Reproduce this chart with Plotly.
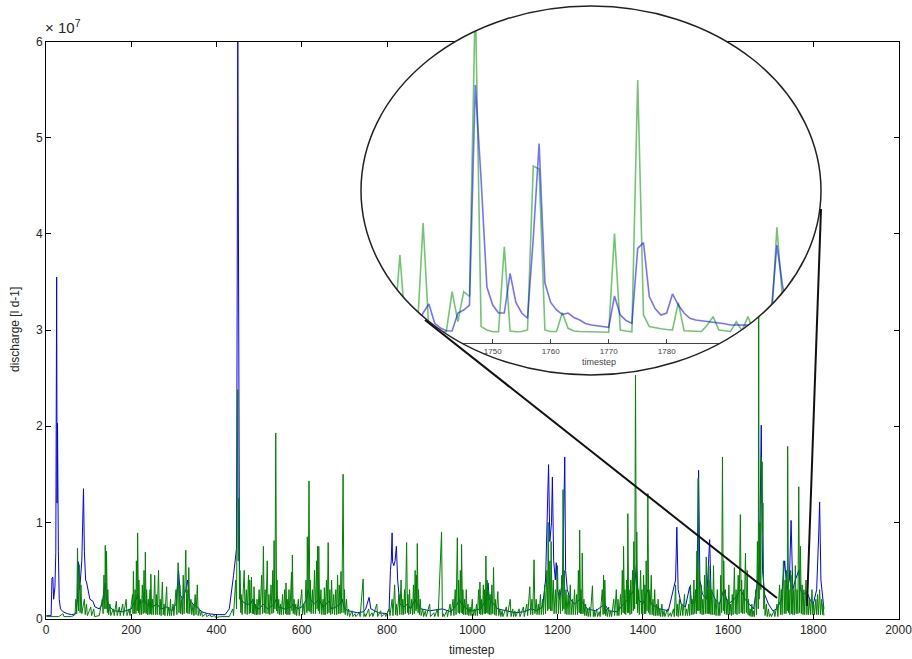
import math
import plotly.graph_objects as go

W, H = 912, 659

# ---------------- data (discharge, units of 1e7 l d-1) ----------------
blue_pts = [
    (1, 0.03), (12, 0.03), (14, 0.42), (16, 0.43), (18, 0.2), (21, 0.33), (23, 0.69), (25, 3.55),
    (26, 1.2), (27, 2.03), (29, 0.7), (31, 0.2), (34, 0.1), (40, 0.07), (50, 0.05), (60, 0.04), (70, 0.05),
    (74, 0.2), (76, 0.59), (79, 0.3), (84, 0.6), (86, 1.06), (88, 1.35), (90, 0.7), (93, 0.4),
    (95, 0.38), (99, 0.3), (103, 0.2), (110, 0.18), (115, 0.12), (125, 0.1), (132, 0.15), (136, 0.3),
    (139, 0.37), (142, 0.2), (150, 0.12), (160, 0.08), (180, 0.07), (200, 0.1), (205, 0.15), (212, 0.2),
    (215, 0.25), (220, 0.15), (230, 0.2), (235, 0.15), (250, 0.12), (260, 0.15), (270, 0.1), (283, 0.12),
    (295, 0.08), (305, 0.15), (311, 0.5), (315, 0.25), (320, 0.2), (328, 0.3), (332, 0.4), (336, 0.2),
    (345, 0.15), (355, 0.12), (365, 0.07), (380, 0.05), (400, 0.04), (420, 0.04), (430, 0.1), (440, 0.45),
    (443, 0.61), (447, 0.73), (450, 6.0), (452, 3.6), (454, 0.5), (456, 0.23), (460, 0.18), (470, 0.15),
    (480, 0.15), (485, 0.2), (490, 0.12), (500, 0.1), (510, 0.15), (520, 0.1), (535, 0.15), (540, 0.2),
    (545, 0.12), (560, 0.1), (575, 0.12), (580, 0.15), (590, 0.1), (600, 0.12), (612, 0.2), (615, 0.3),
    (620, 0.2), (630, 0.15), (640, 0.2), (650, 0.12), (664, 0.18), (670, 0.1), (680, 0.12), (690, 0.15),
    (695, 0.2), (700, 0.1), (710, 0.08), (730, 0.06), (745, 0.07), (750, 0.1), (758, 0.22), (762, 0.1),
    (780, 0.06), (800, 0.05), (805, 0.1), (808, 0.5), (810, 0.6), (812, 0.89), (813, 0.59), (816, 0.55),
    (819, 0.6), (822, 0.75), (825, 0.4), (830, 0.15), (840, 0.12), (848, 0.15), (855, 0.1), (866, 0.2),
    (870, 0.15), (880, 0.1), (900, 0.08), (930, 0.1), (950, 0.07), (965, 0.15), (970, 0.2), (975, 0.15),
    (988, 0.1), (1000, 0.08), (1020, 0.1), (1033, 0.2), (1037, 0.37), (1040, 0.2), (1050, 0.15), (1060, 0.1),
    (1080, 0.08), (1100, 0.06), (1120, 0.07), (1140, 0.1), (1150, 0.08), (1165, 0.12), (1172, 0.4), (1176, 1.0),
    (1179, 1.6), (1182, 0.8), (1186, 1.0), (1188, 1.47), (1191, 0.6), (1195, 0.4), (1197, 0.58), (1200, 0.3),
    (1205, 0.2), (1212, 0.4), (1215, 1.2), (1217, 1.68), (1219, 0.5), (1223, 0.3), (1230, 0.2), (1240, 0.15),
    (1252, 0.2), (1260, 0.15), (1270, 0.1), (1290, 0.08), (1311, 0.15), (1320, 0.08), (1340, 0.07), (1355, 0.15),
    (1365, 0.2), (1380, 0.3), (1385, 0.55), (1390, 0.2), (1400, 0.15), (1412, 0.3), (1420, 0.15), (1440, 0.1),
    (1460, 0.08), (1477, 0.4), (1480, 0.95), (1483, 0.3), (1490, 0.15), (1500, 0.12), (1510, 0.33), (1515, 0.15),
    (1525, 0.2), (1528, 0.6), (1531, 1.54), (1534, 0.4), (1540, 0.25), (1550, 0.2), (1557, 0.82), (1560, 0.3),
    (1570, 0.2), (1580, 0.15), (1590, 0.3), (1600, 0.15), (1615, 0.2), (1630, 0.3), (1640, 0.2), (1650, 0.15),
    (1660, 0.1), (1670, 0.4), (1674, 0.6), (1678, 2.01), (1681, 0.5), (1686, 0.25), (1695, 0.15), (1705, 0.08),
    (1715, 0.1), (1725, 0.2), (1733, 0.6), (1738, 0.3), (1744, 0.4), (1748, 1.02), (1752, 0.3), (1758, 0.4),
    (1766, 0.5), (1770, 0.3), (1776, 0.25), (1785, 0.28), (1792, 0.2), (1800, 0.15), (1808, 0.3), (1813, 0.9),
    (1815, 1.21), (1818, 0.4), (1822, 0.2), (1825, 0.1),
]

green_pts = [
    (1, 0.02), (30, 0.02), (40, 0.05), (42, 0.02), (60, 0.02), (68, 0.04),
    (70, 0.2), (72, 0.05), (74, 0.73), (76, 0.08), (78, 0.56), (80, 0.06), (82, 0.35), (84, 0.05), (90, 0.2),
    (92, 0.04), (95, 0.15), (97, 0.03), (105, 0.12), (107, 0.03), (112, 0.1), (114, 0.02),
    (125, 0.03), (132, 0.2), (134, 0.05), (136, 0.45), (138, 0.1), (139, 0.76), (141, 0.1), (142, 0.7),
    (144, 0.06), (145, 0.3), (147, 0.04), (150, 0.15), (152, 0.03), (158, 0.1), (160, 0.03),
    (165, 0.18), (167, 0.03), (172, 0.12), (174, 0.03), (180, 0.15), (182, 0.03), (188, 0.2), (190, 0.03),
    (195, 0.1), (197, 0.03),
    (203, 0.25), (204, 0.05), (205, 0.49), (207, 0.05), (209, 0.3), (211, 0.05), (212, 0.6), (214, 0.08),
    (215, 0.89), (217, 0.06), (218, 0.4), (220, 0.04), (222, 0.2), (224, 0.04), (226, 0.35), (228, 0.05),
    (230, 0.5), (232, 0.06), (233, 0.69), (235, 0.05), (236, 0.3), (238, 0.04), (240, 0.2), (242, 0.04),
    (244, 0.3), (245, 0.05), (246, 0.46), (248, 0.04), (250, 0.2), (252, 0.04), (255, 0.45), (257, 0.04),
    (259, 0.25), (261, 0.04), (264, 0.5), (266, 0.04), (268, 0.2), (270, 0.03), (273, 0.38), (275, 0.04),
    (277, 0.15), (279, 0.03), (283, 0.33), (285, 0.03), (288, 0.12), (290, 0.03), (292, 0.2), (294, 0.03),
    (298, 0.15), (300, 0.03), (305, 0.3), (307, 0.04), (310, 0.58), (312, 0.06), (314, 0.35), (316, 0.05),
    (318, 0.2), (320, 0.04), (322, 0.45), (324, 0.05), (328, 0.71), (330, 0.06), (331, 0.3), (333, 0.05),
    (335, 0.53), (337, 0.05), (340, 0.2), (342, 0.04), (345, 0.15), (347, 0.03), (350, 0.25), (352, 0.04),
    (355, 0.35), (357, 0.03), (360, 0.1), (362, 0.03), (365, 0.08), (367, 0.02),
    (375, 0.05), (377, 0.02), (385, 0.04), (387, 0.02), (396, 0.03), (398, 0.01), (410, 0.02), (430, 0.02),
    (438, 0.1), (440, 0.03), (445, 0.4), (447, 0.1), (450, 2.38), (451, 0.6), (452, 1.25), (454, 0.2),
    (455, 0.5), (457, 0.06), (458, 0.25), (460, 0.04),
    (465, 0.5), (467, 0.05), (470, 0.3), (472, 0.04), (475, 0.45), (477, 0.05), (478, 0.4), (480, 0.06),
    (482, 0.43), (484, 0.05), (486, 0.2), (487, 0.05), (488, 0.33), (490, 0.04), (492, 0.15), (494, 0.04),
    (495, 0.2), (497, 0.04), (500, 0.3), (502, 0.04), (506, 0.45), (508, 0.05), (510, 0.75), (512, 0.06),
    (514, 0.3), (516, 0.05), (519, 0.6), (521, 0.05), (523, 0.25), (525, 0.04), (528, 0.35), (530, 0.05),
    (532, 0.5), (534, 0.06), (535, 0.81), (537, 0.1), (539, 1.93), (541, 0.08), (542, 0.4), (544, 0.05),
    (546, 0.2), (548, 0.04), (550, 0.15), (552, 0.04), (555, 0.25), (557, 0.04), (560, 0.3), (562, 0.05),
    (563, 0.37), (565, 0.04), (566, 0.2), (568, 0.04), (570, 0.3), (572, 0.04), (576, 0.48), (577, 0.08),
    (578, 0.66), (580, 0.05), (582, 0.2), (584, 0.04), (586, 0.15), (588, 0.03), (592, 0.2), (594, 0.03),
    (600, 0.3), (602, 0.04), (605, 0.15), (607, 0.04), (610, 0.4), (612, 0.06), (613, 0.85), (615, 0.08),
    (617, 1.43), (619, 0.07), (620, 0.4), (622, 0.05), (625, 0.3), (627, 0.05), (630, 0.5), (632, 0.05),
    (635, 0.6), (636, 0.1), (637, 0.75), (639, 0.08), (640, 0.75), (642, 0.05), (645, 0.3), (647, 0.04),
    (650, 0.2), (652, 0.04), (653, 0.32), (655, 0.04), (658, 0.4), (660, 0.05), (662, 0.79), (664, 0.06),
    (666, 0.3), (668, 0.04), (670, 0.4), (672, 0.05), (675, 0.25), (677, 0.04), (680, 0.3), (682, 0.04),
    (684, 0.45), (686, 0.05), (688, 0.35), (690, 0.05), (692, 0.49), (694, 0.06), (697, 1.5), (699, 0.06),
    (700, 0.3), (702, 0.04), (705, 0.2), (707, 0.03), (710, 0.1), (712, 0.02), (718, 0.08), (720, 0.02),
    (725, 0.05), (727, 0.02), (735, 0.06), (737, 0.02), (744, 0.41), (746, 0.02), (748, 0.05), (750, 0.02),
    (757, 0.1), (759, 0.02), (765, 0.06), (767, 0.02), (776, 0.15), (778, 0.02), (785, 0.08), (787, 0.02),
    (795, 0.05), (797, 0.02),
    (805, 0.1), (807, 0.03), (812, 0.2), (814, 0.03), (818, 0.35), (820, 0.04), (822, 0.15), (824, 0.03),
    (828, 0.25), (830, 0.04), (833, 0.4), (835, 0.04), (837, 0.2), (839, 0.04), (841, 0.3), (843, 0.05),
    (846, 0.79), (848, 0.06), (849, 0.25), (851, 0.04), (853, 0.3), (855, 0.05), (858, 0.2), (860, 0.04),
    (862, 0.35), (864, 0.05), (866, 0.5), (868, 0.08), (869, 0.45), (870, 0.1), (871, 0.78), (873, 0.06),
    (874, 0.3), (876, 0.04), (878, 0.2), (880, 0.03), (884, 0.1), (886, 0.02),
    (890, 0.08), (892, 0.02), (900, 0.15), (902, 0.02), (910, 0.06), (912, 0.02), (918, 0.1), (920, 0.02),
    (928, 0.9), (930, 0.02), (932, 0.05), (934, 0.02), (940, 0.08), (942, 0.02),
    (948, 0.15), (950, 0.03), (955, 0.2), (957, 0.03), (960, 0.3), (962, 0.04), (965, 0.84), (967, 0.06),
    (968, 0.4), (970, 0.05), (972, 0.5), (974, 0.06), (975, 0.77), (977, 0.05), (978, 0.3), (980, 0.04),
    (982, 0.2), (984, 0.04), (986, 0.3), (988, 0.04), (990, 0.15), (992, 0.03), (995, 0.12), (997, 0.03),
    (1000, 0.2), (1002, 0.03), (1005, 0.1), (1007, 0.03), (1010, 0.15), (1012, 0.03), (1015, 0.3), (1017, 0.05),
    (1018, 0.38), (1020, 0.04), (1022, 0.2), (1024, 0.04), (1026, 0.35), (1028, 0.05), (1029, 0.3), (1031, 0.05),
    (1032, 0.65), (1034, 0.06), (1035, 0.4), (1037, 0.05), (1038, 0.3), (1040, 0.04), (1042, 0.25), (1044, 0.04),
    (1046, 0.35), (1048, 0.05), (1050, 0.53), (1052, 0.04), (1054, 0.2), (1056, 0.03), (1060, 0.28), (1062, 0.03),
    (1065, 0.1), (1067, 0.02), (1070, 0.08), (1072, 0.02), (1080, 0.12), (1082, 0.02), (1089, 0.2), (1091, 0.02),
    (1095, 0.1), (1097, 0.02), (1100, 0.08), (1102, 0.02),
    (1110, 0.1), (1112, 0.02), (1120, 0.12), (1122, 0.02), (1128, 0.15), (1130, 0.03), (1135, 0.33), (1137, 0.04),
    (1140, 0.2), (1142, 0.04), (1145, 0.61), (1147, 0.05), (1150, 0.2), (1152, 0.04), (1155, 0.15), (1157, 0.04),
    (1160, 0.25), (1162, 0.04), (1165, 0.2), (1167, 0.04), (1170, 0.35), (1172, 0.05), (1175, 0.5), (1177, 0.08),
    (1178, 1.0), (1180, 0.1), (1182, 0.6), (1184, 0.08),
    (1185, 0.8), (1187, 0.08), (1190, 0.4), (1192, 0.05), (1195, 0.3), (1197, 0.05), (1200, 0.55), (1202, 0.05),
    (1205, 0.3), (1207, 0.05), (1210, 0.45), (1212, 0.08), (1213, 1.34), (1215, 0.1), (1216, 0.5), (1218, 0.05),
    (1220, 0.3), (1222, 0.04), (1225, 0.25), (1227, 0.04), (1230, 0.35), (1232, 0.04), (1235, 0.2), (1237, 0.04),
    (1240, 0.3), (1242, 0.04), (1245, 0.25), (1247, 0.04), (1249, 0.5), (1251, 0.06), (1252, 0.92), (1254, 0.05),
    (1255, 0.3), (1257, 0.05), (1258, 0.68), (1260, 0.05), (1262, 0.2), (1264, 0.03), (1266, 0.15), (1268, 0.03),
    (1270, 0.1), (1272, 0.02), (1275, 0.12), (1277, 0.02), (1282, 0.34), (1284, 0.02), (1286, 0.08), (1288, 0.02),
    (1292, 0.1), (1294, 0.02), (1298, 0.07), (1300, 0.02),
    (1305, 0.3), (1307, 0.04), (1308, 0.45), (1310, 0.05), (1311, 0.4), (1313, 0.03), (1315, 0.1), (1317, 0.02),
    (1320, 0.12), (1322, 0.02), (1325, 0.08), (1327, 0.02), (1332, 0.2), (1334, 0.03), (1338, 0.3), (1340, 0.03),
    (1342, 0.2), (1344, 0.03), (1348, 0.25), (1350, 0.04), (1352, 0.5), (1354, 0.06), (1355, 0.75), (1357, 0.05),
    (1358, 0.3), (1360, 0.04), (1362, 0.4), (1364, 0.06), (1365, 1.09), (1367, 0.06), (1368, 0.3), (1370, 0.04),
    (1372, 0.4), (1374, 0.05), (1376, 0.5), (1378, 0.08), (1379, 0.8), (1381, 0.1), (1383, 2.53), (1385, 0.15),
    (1386, 0.9), (1388, 0.06), (1390, 0.3), (1392, 0.04),
    (1395, 0.5), (1397, 0.05), (1398, 0.3), (1400, 0.04), (1402, 0.45), (1404, 0.05), (1405, 0.35), (1407, 0.05),
    (1408, 0.6), (1410, 0.08), (1412, 1.3), (1414, 0.06), (1415, 0.3), (1417, 0.04), (1420, 0.45), (1422, 0.04),
    (1424, 0.2), (1426, 0.03), (1428, 0.3), (1430, 0.03), (1432, 0.15), (1434, 0.03), (1436, 0.2), (1438, 0.03),
    (1440, 0.1), (1442, 0.02), (1445, 0.15), (1447, 0.02), (1450, 0.08), (1452, 0.02), (1458, 0.1), (1460, 0.02),
    (1465, 0.06), (1467, 0.02), (1472, 0.1), (1474, 0.02), (1477, 0.35), (1479, 0.03), (1481, 0.15), (1483, 0.02),
    (1486, 0.2), (1488, 0.03), (1492, 0.15), (1494, 0.03), (1498, 0.25), (1500, 0.03), (1503, 0.1), (1505, 0.03),
    (1508, 0.15), (1510, 0.03), (1512, 0.35), (1514, 0.04), (1516, 0.2), (1518, 0.04), (1520, 0.4), (1522, 0.05),
    (1524, 0.3), (1526, 0.05), (1527, 0.7), (1529, 0.08), (1530, 1.46), (1532, 0.08), (1533, 0.5), (1535, 0.05),
    (1537, 0.35), (1539, 0.04), (1541, 0.2), (1543, 0.04), (1545, 0.45), (1547, 0.05), (1549, 0.64), (1551, 0.05),
    (1552, 0.3), (1554, 0.05), (1555, 0.55), (1557, 0.05), (1558, 0.4), (1560, 0.04), (1562, 0.3), (1564, 0.04),
    (1566, 0.55), (1568, 0.04), (1570, 0.2), (1572, 0.03),
    (1575, 0.3), (1577, 0.03), (1579, 0.15), (1581, 0.03), (1583, 0.45), (1585, 0.06), (1587, 1.68), (1589, 0.08),
    (1590, 0.6), (1592, 0.05), (1594, 0.3), (1596, 0.04), (1598, 0.2), (1600, 0.04), (1602, 0.35), (1604, 0.04),
    (1606, 0.15), (1608, 0.03), (1610, 0.25), (1612, 0.04), (1615, 0.53), (1617, 0.05), (1619, 0.3), (1621, 0.04),
    (1624, 0.45), (1626, 0.05), (1629, 1.08), (1631, 0.06), (1632, 0.4), (1634, 0.05), (1636, 0.3), (1638, 0.05),
    (1641, 0.68), (1643, 0.06), (1645, 0.5), (1647, 0.04), (1648, 0.2), (1650, 0.03), (1652, 0.1), (1654, 0.02),
    (1656, 0.15), (1658, 0.02), (1660, 0.08), (1662, 0.02),
    (1665, 0.3), (1667, 0.04), (1669, 0.8), (1671, 0.1), (1672, 3.2), (1673, 0.2), (1675, 1.0), (1677, 0.3),
    (1678, 1.68), (1679, 1.2), (1680, 1.63), (1681, 0.9), (1682, 1.2), (1684, 0.1), (1685, 0.3), (1687, 0.03),
    (1690, 0.15), (1692, 0.02), (1695, 0.1), (1697, 0.02), (1700, 0.05), (1702, 0.02),
    (1708, 0.08), (1710, 0.02), (1715, 0.15), (1717, 0.02), (1721, 0.35), (1723, 0.04), (1725, 0.3), (1727, 0.04),
    (1730, 0.6), (1732, 0.05), (1734, 0.4), (1736, 0.05), (1737, 0.5), (1739, 0.08), (1740, 1.79), (1742, 0.06),
    (1743, 0.3), (1745, 0.04), (1747, 0.5), (1749, 0.05), (1750, 0.45), (1752, 0.04), (1754, 0.3), (1756, 0.04),
    (1758, 0.55), (1760, 0.05), (1762, 0.3), (1764, 0.05), (1766, 1.37), (1768, 0.06), (1770, 0.75), (1772, 0.05),
    (1774, 0.35), (1776, 0.04), (1778, 0.3), (1780, 0.04), (1783, 0.4), (1785, 0.04), (1787, 0.25), (1789, 0.04),
    (1792, 0.2), (1794, 0.04), (1797, 0.3), (1799, 0.04), (1801, 0.15), (1803, 0.04), (1806, 0.2), (1808, 0.04),
    (1810, 0.25), (1812, 0.04), (1815, 0.3), (1817, 0.04), (1820, 0.2), (1822, 0.04), (1823, 0.15), (1825, 0.03),
]

blue_t = [p[0] for p in blue_pts]
blue_v = [p[1] for p in blue_pts]
green_t = [p[0] for p in green_pts]
green_v = [p[1] for p in green_pts]

# zoomed window (daily values)
inset_t = list(range(1733, 1802))
inset_green = [
    0.08, 0.587, 0.08, 0.08, 0.08, 0.80, 0.08, 0.075, 0.075, 0.075,
    0.342, 0.142, 0.342, 0.31, 2.3, 0.109, 0.087, 0.075, 0.075, 0.642,
    0.08, 0.075, 0.077, 0.087, 1.18, 1.16, 0.087, 0.077, 0.077, 0.202,
    0.098, 0.08, 0.077, 0.075, 0.075, 0.073, 0.073, 0.072, 0.73, 0.087,
    0.08, 0.075, 1.753, 0.187, 0.109, 0.1, 0.095, 0.09, 0.087, 0.269,
    0.082, 0.08, 0.078, 0.077, 0.12, 0.176, 0.087, 0.08, 0.077, 0.142,
    0.082, 0.176, 0.08, 0.08, 0.08, 0.085, 0.771, 0.28, 0.1,
]
inset_blue = [
    0.1, 0.1, 0.1, 0.1, 0.12, 0.2, 0.26, 0.131, 0.1, 0.082,
    0.08, 0.2, 0.22, 0.253, 1.72, 1.09, 0.373, 0.253, 0.2, 0.2,
    0.464, 0.27, 0.2, 0.165, 0.7, 1.33, 0.4, 0.27, 0.22, 0.19,
    0.2, 0.17, 0.153, 0.13, 0.12, 0.115, 0.11, 0.105, 0.313, 0.187,
    0.15, 0.131, 0.631, 0.669, 0.31, 0.23, 0.187, 0.2, 0.327, 0.253,
    0.2, 0.165, 0.153, 0.148, 0.145, 0.142, 0.135, 0.128, 0.12, 0.12,
    0.12, 0.12, 0.11, 0.11, 0.12, 0.2, 0.653, 0.375, 0.2,
]
inset_ticks = [1750, 1760, 1770, 1780]
main_xticks = list(range(0, 2001, 200))
main_yticks = list(range(0, 7))

# ---------------- layout geometry (pixels) ----------------
MX0, MX1, MY0, MY1 = 46, 898.5, 618.5, 41.5      # main plot box
CX, CY, RX, RY = 591.0, 190.5, 230.0, 184.5      # magnifier ellipse
IX_REF, IX_SCALE = 492.7, 5.8                    # inset: px of t=1750, px per step
IY_BASE, IY_SCALE = 343.0, 150.0                 # inset: px of v=0, px per unit


def t2px(t):
    return IX_REF + (t - 1750) * IX_SCALE


def px2t(px):
    return 1750 + (px - IX_REF) / IX_SCALE


def py2v(py):
    return (IY_BASE - py) / IY_SCALE


def v2py(v):
    return IY_BASE - v * IY_SCALE


def fx(px):
    return px / W


def fy(py):
    return 1 - py / H


def clip_to_ellipse(ts, vs):
    """Keep only the parts of a polyline that fall inside the magnifier ellipse."""
    xs, ys = [], []
    cont = False
    for i in range(len(ts) - 1):
        x0 = (t2px(ts[i]) - CX) / RX
        y0 = (v2py(vs[i]) - CY) / RY
        x1 = (t2px(ts[i + 1]) - CX) / RX
        y1 = (v2py(vs[i + 1]) - CY) / RY
        dx, dy = x1 - x0, y1 - y0
        a = dx * dx + dy * dy
        b = 2 * (x0 * dx + y0 * dy)
        c = x0 * x0 + y0 * y0 - 1
        disc = b * b - 4 * a * c
        if a == 0 or disc <= 0:
            cont = False
            continue
        r = math.sqrt(disc)
        sa = max(0.0, (-b - r) / (2 * a))
        sb = min(1.0, (-b + r) / (2 * a))
        if sa >= sb:
            cont = False
            continue
        ta = ts[i] + sa * (ts[i + 1] - ts[i])
        va = vs[i] + sa * (vs[i + 1] - vs[i])
        tb = ts[i] + sb * (ts[i + 1] - ts[i])
        vb = vs[i] + sb * (vs[i + 1] - vs[i])
        if cont and sa == 0.0:
            xs.append(tb)
            ys.append(vb)
        else:
            if xs:
                xs.append(None)
                ys.append(None)
            xs += [ta, tb]
            ys += [va, vb]
        cont = sb == 1.0
    return xs, ys


FONT = "Liberation Sans, Arial, Helvetica, sans-serif"
TXT = "#262626"

fig = go.Figure()
fig.add_trace(go.Scatter(x=blue_t, y=blue_v, mode="lines", xaxis="x", yaxis="y",
                         line=dict(color="rgb(0,0,255)", width=1), hoverinfo="skip"))
fig.add_trace(go.Scatter(x=green_t, y=green_v, mode="lines", xaxis="x", yaxis="y",
                         line=dict(color="rgb(0,128,0)", width=1), hoverinfo="skip"))

gx, gy = clip_to_ellipse(inset_t, inset_green)
bx, by = clip_to_ellipse(inset_t, inset_blue)
fig.add_trace(go.Scatter(x=gx, y=gy, mode="lines", xaxis="x2", yaxis="y2", connectgaps=False,
                         line=dict(color="rgba(0,150,0,0.55)", width=1.6), hoverinfo="skip"))
fig.add_trace(go.Scatter(x=bx, y=by, mode="lines", xaxis="x2", yaxis="y2", connectgaps=False,
                         line=dict(color="rgba(0,0,255,0.55)", width=1.6), hoverinfo="skip"))

# inset axis line spans the chord of the ellipse at the inset baseline
half = RX * math.sqrt(1 - ((IY_BASE - CY) / RY) ** 2)
AXL, AXR = CX - half, CX + half

# empty trace so that the inset's axis subplot is created
fig.add_trace(go.Scatter(x=[], y=[], xaxis="x3", yaxis="y3", mode="lines", hoverinfo="skip"))

axis_common = dict(showline=True, linecolor="black", linewidth=1, mirror="ticks",
                   ticks="inside", ticklen=5, tickcolor="black", showgrid=False, zeroline=False,
                   automargin=False, ticklabeloverflow="allow",
                   tickfont=dict(family=FONT, size=12, color=TXT))

fig.update_layout(
    template="none",
    width=W, height=H, autosize=False,
    margin=dict(l=0, r=0, t=0, b=0, pad=0),
    paper_bgcolor="white", plot_bgcolor="rgba(0,0,0,0)",
    showlegend=False,
    font=dict(family=FONT, size=12, color=TXT),
    xaxis=dict(domain=[fx(MX0), fx(MX1)], range=[0, 2000], tickvals=main_xticks,
               anchor="y", **axis_common),
    yaxis=dict(domain=[fy(MY0), fy(MY1)], range=[0, 6], tickvals=main_yticks,
               anchor="x", **axis_common),
    xaxis2=dict(domain=[fx(352), fx(830)], range=[px2t(352), px2t(830)], visible=False,
                anchor="y2", automargin=False),
    yaxis2=dict(domain=[fy(382), fy(1)], range=[py2v(382), py2v(1)], visible=False,
                anchor="x2", automargin=False),
    xaxis3=dict(domain=[fx(AXL), fx(AXR)], range=[px2t(AXL), px2t(AXR)], anchor="y3",
                showline=True, linecolor="#444", linewidth=1, ticks="inside", ticklen=4,
                tickcolor="#444", tickvals=inset_ticks, showgrid=False, zeroline=False,
                automargin=False, ticklabeloverflow="allow",
                tickfont=dict(family=FONT, size=8, color="#444")),
    yaxis3=dict(domain=[fy(IY_BASE), fy(IY_BASE - 60)], range=[0, 1], visible=False,
                anchor="x3", automargin=False),
)

shapes = [
    # white magnifier lens (drawn in the inset subplot, above the main curves)
    dict(type="circle", xref="x2", yref="y2", layer="below",
         x0=px2t(CX - RX), x1=px2t(CX + RX), y0=py2v(CY + RY), y1=py2v(CY - RY),
         fillcolor="white", line=dict(width=0)),
    # lens rim
    dict(type="circle", xref="paper", yref="paper", layer="above",
         x0=fx(CX - RX), x1=fx(CX + RX), y0=fy(CY + RY), y1=fy(CY - RY),
         line=dict(color="#222", width=1.5), fillcolor="rgba(0,0,0,0)"),
    # connector lines
    dict(type="line", xref="paper", yref="paper", layer="above",
         x0=fx(425), y0=fy(320), x1=fx(777), y1=fy(598), line=dict(color="#111", width=2)),
    dict(type="line", xref="paper", yref="paper", layer="above",
         x0=fx(821), y0=fy(209), x1=fx(807), y1=fy(606), line=dict(color="#111", width=2)),
]
fig.update_layout(shapes=shapes)

fig.update_layout(annotations=[
    dict(text="timestep", xref="paper", yref="paper", x=fx((MX0 + MX1) / 2), y=fy(650),
         xanchor="center", yanchor="middle", showarrow=False, font=dict(size=12, color=TXT)),
    dict(text="discharge [l d-1]", xref="paper", yref="paper", x=fx(15), y=fy(330), textangle=-90,
         xanchor="center", yanchor="middle", showarrow=False, font=dict(size=12, color=TXT)),
    dict(text="× 10<sup>7</sup>", xref="paper", yref="paper", x=fx(43), y=fy(38),
         xanchor="left", yanchor="bottom", showarrow=False, font=dict(size=15, color=TXT)),
    dict(text="timestep", xref="paper", yref="paper", x=fx(599), y=fy(362),
         xanchor="center", yanchor="middle", showarrow=False, font=dict(size=9, color="#444")),
])

fig.write_html("out.html")
